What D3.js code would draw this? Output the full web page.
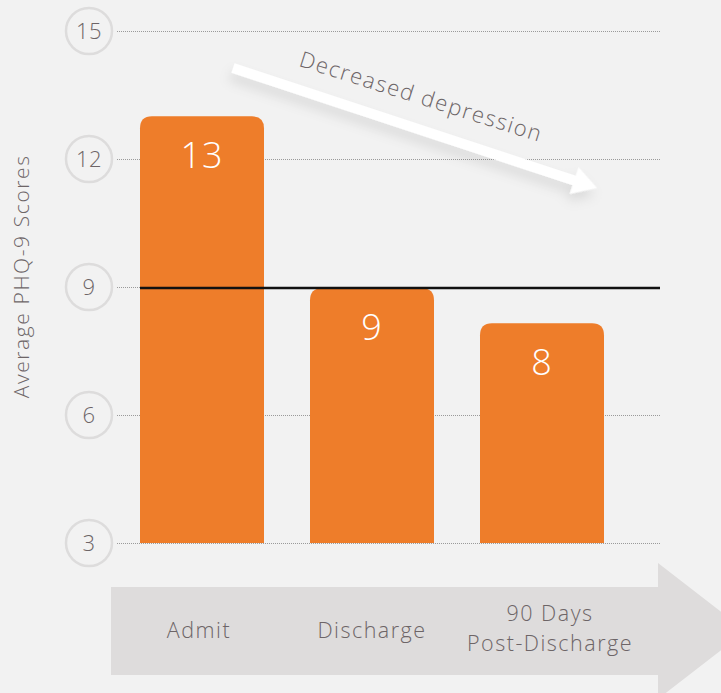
<!DOCTYPE html>
<html><head><meta charset="utf-8">
<script src="https://cdn.jsdelivr.net/npm/d3@7"></script>
<style>
html,body{margin:0;padding:0;background:#f2f2f2;}
svg{display:block;font-family:"Open Sans",sans-serif;}
</style></head>
<body>
<svg id="chart" width="721" height="693"></svg>
<script>
const categories = ["Admit", "Discharge", "90 Days Post-Discharge"];
const categoryLines = [["Admit"], ["Discharge"], ["90 Days", "Post-Discharge"]];
const values = [13, 8.97, 8.15];
const valueLabels = ["13", "9", "8"];
const yTicks = [3, 6, 9, 12, 15];
const referenceValue = 9;
const yTitle = "Average PHQ-9 Scores";
const trendLabel = "Decreased depression";

const svg = d3.select("#chart");
const W = 721, H = 693;
const textColor = "#6d6567";
const barColor = "#ee7d2a";

svg.append("rect").attr("width", W).attr("height", H).attr("fill", "#f2f2f2");

const defs = svg.append("defs");
const f = defs.append("filter").attr("id", "sh").attr("x", "-20%").attr("y", "-50%").attr("width", "140%").attr("height", "250%");
f.append("feDropShadow").attr("dx", 0).attr("dy", 8).attr("stdDeviation", 6).attr("flood-color", "#000").attr("flood-opacity", 0.10);

const y = d3.scaleLinear().domain([3, 15]).range([543, 31]);
const x = d3.scaleBand().domain(categories).range([117, 627]).paddingInner(0.2706).paddingOuter(0.1353);

// gridlines
svg.append("g").selectAll("line").data(yTicks).join("line")
  .attr("x1", 117).attr("x2", 660)
  .attr("y1", d => Math.round(y(d)) + 0.5).attr("y2", d => Math.round(y(d)) + 0.5)
  .attr("stroke", "#9a9a9a").attr("stroke-width", 1).attr("stroke-dasharray", "1,1");

// tick circles
const tg = svg.append("g").selectAll("g").data(yTicks).join("g")
  .attr("transform", d => `translate(89,${y(d)})`);
tg.append("circle").attr("r", 23).attr("fill", "#f2f2f2").attr("stroke", "#dddcdc").attr("stroke-width", 2.5);
tg.append("text").attr("text-anchor", "middle").attr("dy", "0.36em")
  .attr("font-size", 22).attr("font-weight", 300).attr("letter-spacing", 0.5)
  .attr("fill", textColor).text(d => d);

// y title
svg.append("text").attr("transform", `translate(29,${y(9.25)}) rotate(-90)`)
  .attr("text-anchor", "middle").attr("font-size", 21).attr("font-weight", 300)
  .attr("letter-spacing", 1.6).attr("fill", textColor).text(yTitle);

// bars with rounded top corners
const r = 12;
function barPath(x0, w, top, bottom) {
  return `M${x0},${bottom}V${top + r}Q${x0},${top} ${x0 + r},${top}H${x0 + w - r}Q${x0 + w},${top} ${x0 + w},${top + r}V${bottom}Z`;
}
svg.append("g").selectAll("path").data(values).join("path")
  .attr("d", (d, i) => barPath(x(categories[i]), x.bandwidth(), y(d), y(3)))
  .attr("fill", barColor);

// reference line
svg.append("line").attr("x1", 140).attr("x2", 660)
  .attr("y1", y(referenceValue) + 1).attr("y2", y(referenceValue) + 1)
  .attr("stroke", "#111").attr("stroke-width", 2.5);

// value labels
svg.append("g").selectAll("text").data(values).join("text")
  .attr("x", (d, i) => x(categories[i]) + x.bandwidth() / 2)
  .attr("y", d => y(d) + 52)
  .attr("text-anchor", "middle").attr("font-size", 36).attr("font-weight", 300)
  .attr("letter-spacing", 1)
  .attr("fill", "#fff").text((d, i) => valueLabels[i]);

// trend arrow
const ax0 = 233, ay0 = 68, ax1 = 597, ay1 = 188;
const ang = Math.atan2(ay1 - ay0, ax1 - ax0) * 180 / Math.PI;
const len = Math.hypot(ax1 - ax0, ay1 - ay0);
const ag = svg.append("g").attr("transform", `translate(${ax0},${ay0}) rotate(${ang})`).attr("filter", "url(#sh)");
ag.append("path")
  .attr("d", `M0,-5H${len - 24}V-14L${len},0L${len - 24},14V5H0Z`)
  .attr("fill", "#fff");
svg.append("text").attr("transform", `translate(419,104) rotate(17.5)`)
  .attr("text-anchor", "middle").attr("font-size", 22).attr("font-weight", 300)
  .attr("letter-spacing", 1.6).attr("fill", textColor).text(trendLabel);

// bottom timeline arrow
svg.append("path")
  .attr("d", "M111,587H658V563L746,631L658,699V675H111Z")
  .attr("fill", "#dedcdc");
const labelX = (i) => x(categories[i]) + x.bandwidth() / 2 + (i === 2 ? 8 : (i === 0 ? -3 : 0));
categoryLines.forEach((lines, i) => {
  lines.forEach((line, j) => {
    svg.append("text")
      .attr("x", labelX(i))
      .attr("y", lines.length === 1 ? 638 : 621 + j * 29.5)
      .attr("text-anchor", "middle").attr("font-size", 21.5).attr("font-weight", 300)
      .attr("letter-spacing", 1.5)
      .attr("fill", textColor).text(line);
  });
});
</script>
</body></html>
